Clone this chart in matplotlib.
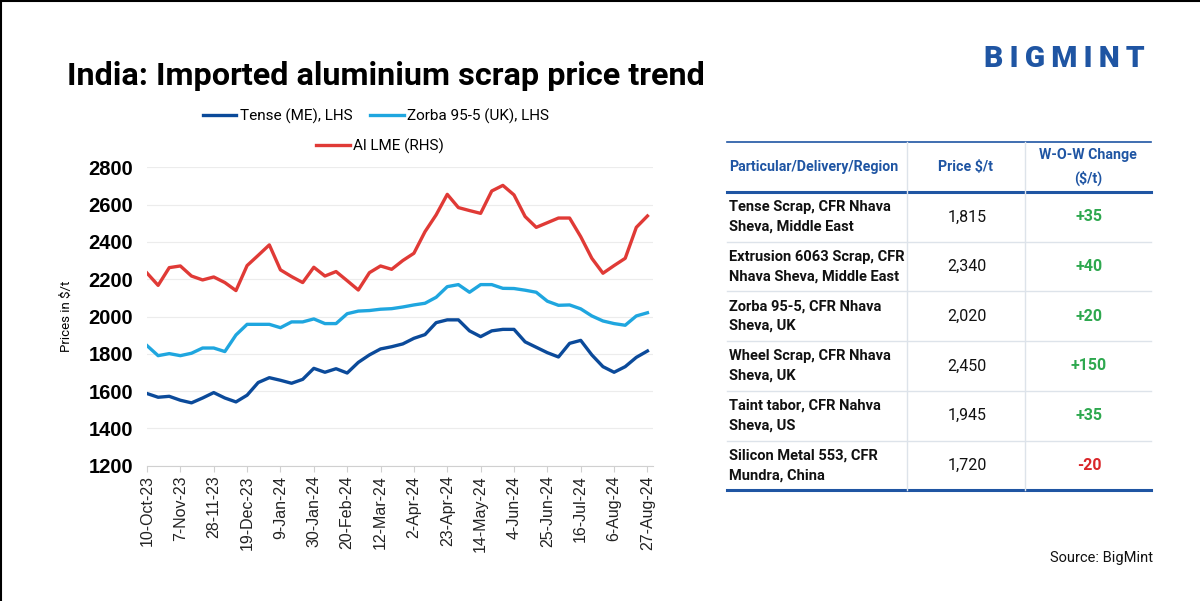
import matplotlib
matplotlib.use("Agg")
import matplotlib.pyplot as plt
from matplotlib.lines import Line2D

plt.rcParams["font.family"] = ["Roboto", "DejaVu Sans"]

# weekly price series ($/t), 46 observations from 10-Oct-23 to 27-Aug-24
tense = [1587, 1567, 1572, 1551, 1537, 1563, 1592, 1563, 1542, 1578,
         1646, 1672, 1658, 1642, 1663, 1722, 1701, 1720, 1697, 1754,
         1794, 1826, 1838, 1853, 1883, 1903, 1967, 1982, 1982, 1923,
         1892, 1923, 1931, 1931, 1864, 1835, 1806, 1783, 1856, 1872,
         1794, 1731, 1701, 1731, 1781, 1815]
zorba = [1844, 1790, 1801, 1790, 1803, 1831, 1831, 1812, 1901, 1958,
         1958, 1958, 1940, 1971, 1971, 1987, 1962, 1962, 2015, 2029,
         2032, 2039, 2042, 2051, 2062, 2071, 2103, 2160, 2171, 2130,
         2171, 2171, 2151, 2150, 2141, 2130, 2082, 2060, 2062, 2041,
         2003, 1976, 1962, 1953, 2003, 2020]
al_lme = [2233, 2167, 2262, 2271, 2217, 2196, 2212, 2182, 2139, 2273,
          2328, 2384, 2250, 2214, 2182, 2264, 2217, 2241, 2192, 2142,
          2235, 2271, 2253, 2300, 2339, 2455, 2545, 2655, 2584, 2568,
          2553, 2673, 2703, 2652, 2536, 2478, 2503, 2528, 2528, 2428,
          2312, 2232, 2273, 2312, 2478, 2539]
tick_labels = ["10-Oct-23", "7-Nov-23", "28-11-23", "19-Dec-23", "9-Jan-24",
               "30-Jan-24", "20-Feb-24", "12-Mar-24", "2-Apr-24", "23-Apr-24",
               "14-May-24", "4-Jun-24", "25-Jun-24", "16-Jul-24", "6-Aug-24",
               "27-Aug-24"]

# table
tab_header = ["Particular/Delivery/Region", "Price $/t", "W-O-W Change\n($/t)"]
tab_items = ["Tense Scrap, CFR Nhava\nSheva, Middle East",
             "Extrusion 6063 Scrap, CFR\nNhava Sheva, Middle East",
             "Zorba 95-5, CFR Nhava\nSheva, UK",
             "Wheel Scrap, CFR Nhava\nSheva, UK",
             "Taint tabor, CFR Nahva\nSheva, US",
             "Silicon Metal 553, CFR\nMundra, China"]
tab_prices = ["1,815", "2,340", "2,020", "2,450", "1,945", "1,720"]
tab_changes = ["+35", "+40", "+20", "+150", "+35", "-20"]

C_TENSE, C_ZORBA, C_LME = "#0b4a9a", "#1fa6df", "#e03a36"
C_HEAD = "#1f55a3"

W, H = 1200, 601
fig = plt.figure(figsize=(12, 6.01), dpi=100)

# ---- chart
ax = fig.add_axes([147 / W, 1 - 465.7 / H, (653 - 147) / W, (465.7 - 167.3) / H])
x = range(len(tense))
l1, = ax.plot(x, tense, color=C_TENSE, lw=2.4, solid_joinstyle="round")
l2, = ax.plot(x, zorba, color=C_ZORBA, lw=2.4, solid_joinstyle="round")
l3, = ax.plot(x, al_lme, color=C_LME, lw=2.4, solid_joinstyle="round")
ax.set_ylim(1200, 2800)
ax.set_xlim(0, len(tense) - 0.5)
ax.set_yticks(range(1200, 2801, 200))
ax.set_xticks(range(0, len(tense), 3))
ax.set_xticklabels(tick_labels, rotation=90, fontsize=11.5, color="#222222",
                   family=["Liberation Sans", "DejaVu Sans"])
for lab in ax.get_yticklabels():
    lab.set_fontweight("bold")
    lab.set_fontsize(14.5)
    lab.set_family(["Liberation Sans", "DejaVu Sans"])
ax.tick_params(axis="y", length=0, pad=10)
ax.tick_params(axis="x", length=4, color="#d0d0d0", pad=3)
ax.grid(axis="y", color="#ececec", lw=0.8)
ax.set_axisbelow(True)
for s in ["top", "right", "left"]:
    ax.spines[s].set_visible(False)
ax.spines["bottom"].set_color("#d0d0d0")
ax.set_ylabel("Prices in $/t", fontsize=9.5, labelpad=11)

leg1 = fig.legend([l1, l2], ["Tense (ME), LHS", "Zorba 95-5 (UK), LHS"], ncol=2,
                  loc="center", bbox_to_anchor=(376 / W, 1 - 116 / H), frameon=False,
                  fontsize=11, handlelength=2.2, columnspacing=1.2, handletextpad=0.2)
leg2 = fig.legend([l3], ["Al LME (RHS)"], loc="center",
                  bbox_to_anchor=(380 / W, 1 - 146 / H), frameon=False,
                  fontsize=11, handlelength=2.2, handletextpad=0.2)

fig.text(67 / W, 1 - 76 / H, "India: Imported aluminium scrap price trend",
         fontsize=23.3, fontweight="bold", va="center", ha="left")

# ---- table, drawn on a pixel-space overlay
ov = fig.add_axes([0, 0, 1, 1])
ov.set_xlim(0, W)
ov.set_ylim(H, 0)
ov.axis("off")

tx0, tx1 = 727, 1151
col_x = [907, 1025]
y_top, y_head = 142, 192
row_h = 49.7
n = len(tab_items)
y_bot = y_head + n * row_h

ov.plot([tx0, tx1], [y_top, y_top], color=C_HEAD, lw=1.2)
ov.plot([tx0, tx1], [y_head, y_head], color=C_HEAD, lw=2.2)
ov.plot([tx0, tx1], [y_bot, y_bot], color=C_HEAD, lw=2.2)
for cx in col_x:
    ov.plot([cx, cx], [y_top, y_bot], color="#dde3ea", lw=1)
for i in range(1, n):
    yy = y_head + i * row_h
    ov.plot([tx0, tx1], [yy, yy], color="#dde3ea", lw=1)

yc = (y_top + y_head) / 2
ov.text(729, yc, tab_header[0], color=C_HEAD, fontsize=10.2, fontweight="bold",
        ha="left", va="center")
ov.text(966, yc, tab_header[1], color=C_HEAD, fontsize=10.2, fontweight="bold",
        ha="center", va="center")
ov.text(1088, yc, tab_header[2], color=C_HEAD, fontsize=10.2, fontweight="bold",
        ha="center", va="center", linespacing=1.7)

for i in range(n):
    yc = y_head + (i + 0.5) * row_h
    ov.text(729, yc, tab_items[i], fontsize=10.5, fontweight="bold", color="#111111",
            ha="left", va="center", linespacing=1.5)
    ov.text(967, yc, tab_prices[i], fontsize=11.5, color="#111111",
            ha="center", va="center")
    col = "#d9262a" if tab_changes[i].startswith("-") else "#2ea84f"
    ov.text(1089, yc, tab_changes[i], fontsize=11.5, fontweight="bold", color=col,
            ha="center", va="center")

ov.text(1064, 59, "B\u2009I\u2009G\u2009M\u2009I\u2009N\u2009T", fontsize=21.5,
        fontweight="black", color=C_HEAD, ha="center", va="center")
ov.text(1153, 558, "Source: BigMint", fontsize=10.5, color="#111111",
        ha="right", va="center")

# frame lines on top and left edges
ov.add_line(Line2D([0, W], [0.5, 0.5], color="black", lw=1.5))
ov.add_line(Line2D([0.5, 0.5], [0, H], color="black", lw=1.5))

fig.savefig("out.png", dpi=100, facecolor="white")
